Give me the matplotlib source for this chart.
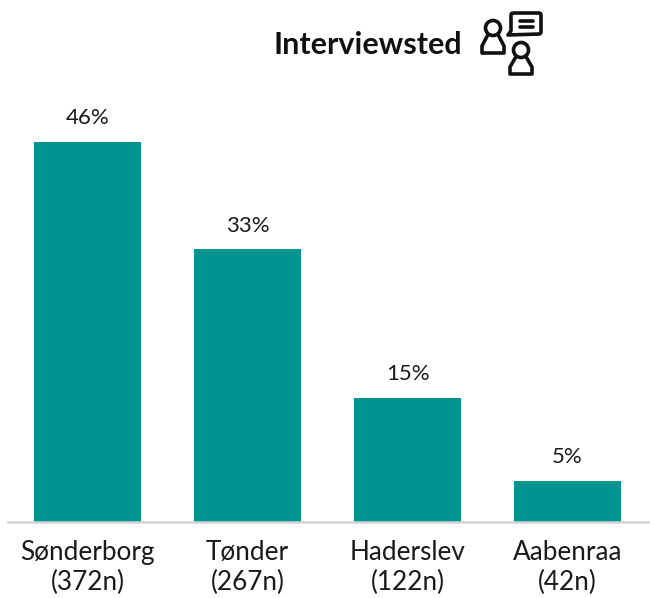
import matplotlib
matplotlib.use("Agg")
import matplotlib.pyplot as plt
from matplotlib.patches import Circle, PathPatch
from matplotlib.path import Path

categories = ["Sønderborg\n(372n)", "Tønder\n(267n)", "Haderslev\n(122n)", "Aabenraa\n(42n)"]
values = [46, 33, 15, 5]
labels = ["46%", "33%", "15%", "5%"]
title = "Interviewsted"

W, H = 650, 598
TEAL = "#009491"
plt.rcParams['font.family'] = ['Lato', 'DejaVu Sans']

fig = plt.figure(figsize=(W/100, H/100), dpi=100)
ax = fig.add_axes([8/W, (H-522)/H, 640/W, 522/H])
ax.bar(range(len(values)), values, width=0.669, color=TEAL)
ax.set_xlim(-0.497, 3.503)
ax.set_ylim(0, 522/8.26)
for s in ("top", "left", "right"):
    ax.spines[s].set_visible(False)
ax.spines["bottom"].set_color("#d4d4d4")
ax.spines["bottom"].set_linewidth(1.8)
ax.set_yticks([])
ax.set_xticks(range(len(values)))
ax.set_xticklabels(categories, fontsize=18.8, color="#1a1a1a", linespacing=1.22)
ax.tick_params(axis="x", length=0, pad=13)
for i, (v, t) in enumerate(zip(values, labels)):
    ax.annotate(t, (i, v), xytext=(0, 10), textcoords="offset points",
                ha="center", va="bottom", fontsize=16, color="#1a1a1a")
ax.patch.set_alpha(0)

# overlay in pixel coordinates for title and icon
ov = fig.add_axes([0, 0, 1, 1])
ov.set_xlim(0, W)
ov.set_ylim(H, 0)
ov.axis("off")
ov.text(273, 45, title, fontsize=22, fontweight="bold", color="#111111", ha="left", va="center")

lw = 2.6
ic = "#111111"
def person(cx, top, body_bot, hw):
    ov.add_patch(Circle((cx, top+7.5), 7.5, fill=False, ec=ic, lw=lw))
    verts = [(cx-5.5, top+15), (cx-hw, body_bot-7), (cx-hw, body_bot), (cx+hw, body_bot),
             (cx+hw, body_bot-7), (cx+5.5, top+15)]
    codes = [Path.MOVETO] + [Path.LINETO]*5
    ov.add_patch(PathPatch(Path(verts, codes), fill=False, ec=ic, lw=lw, joinstyle="round", capstyle="round"))
person(493, 20.5, 53, 11)
person(521, 42.5, 74, 11)
bubble = [(513, 13), (539, 13), (541, 13), (541, 15), (541, 32), (541, 34), (539, 34),
          (508, 35), (511, 31), (511, 15), (511, 13), (513, 13)]
bc = [Path.MOVETO, Path.LINETO, Path.CURVE3, Path.CURVE3, Path.LINETO, Path.CURVE3, Path.CURVE3,
      Path.LINETO, Path.LINETO, Path.LINETO, Path.CURVE3, Path.CURVE3]
ov.add_patch(PathPatch(Path(bubble, bc), fill=False, ec=ic, lw=lw, joinstyle="round"))
ov.plot([520, 533], [21, 21], color=ic, lw=lw, solid_capstyle="round")
ov.plot([520, 533], [27, 27], color=ic, lw=lw, solid_capstyle="round")

fig.savefig("out.png", dpi=100)
